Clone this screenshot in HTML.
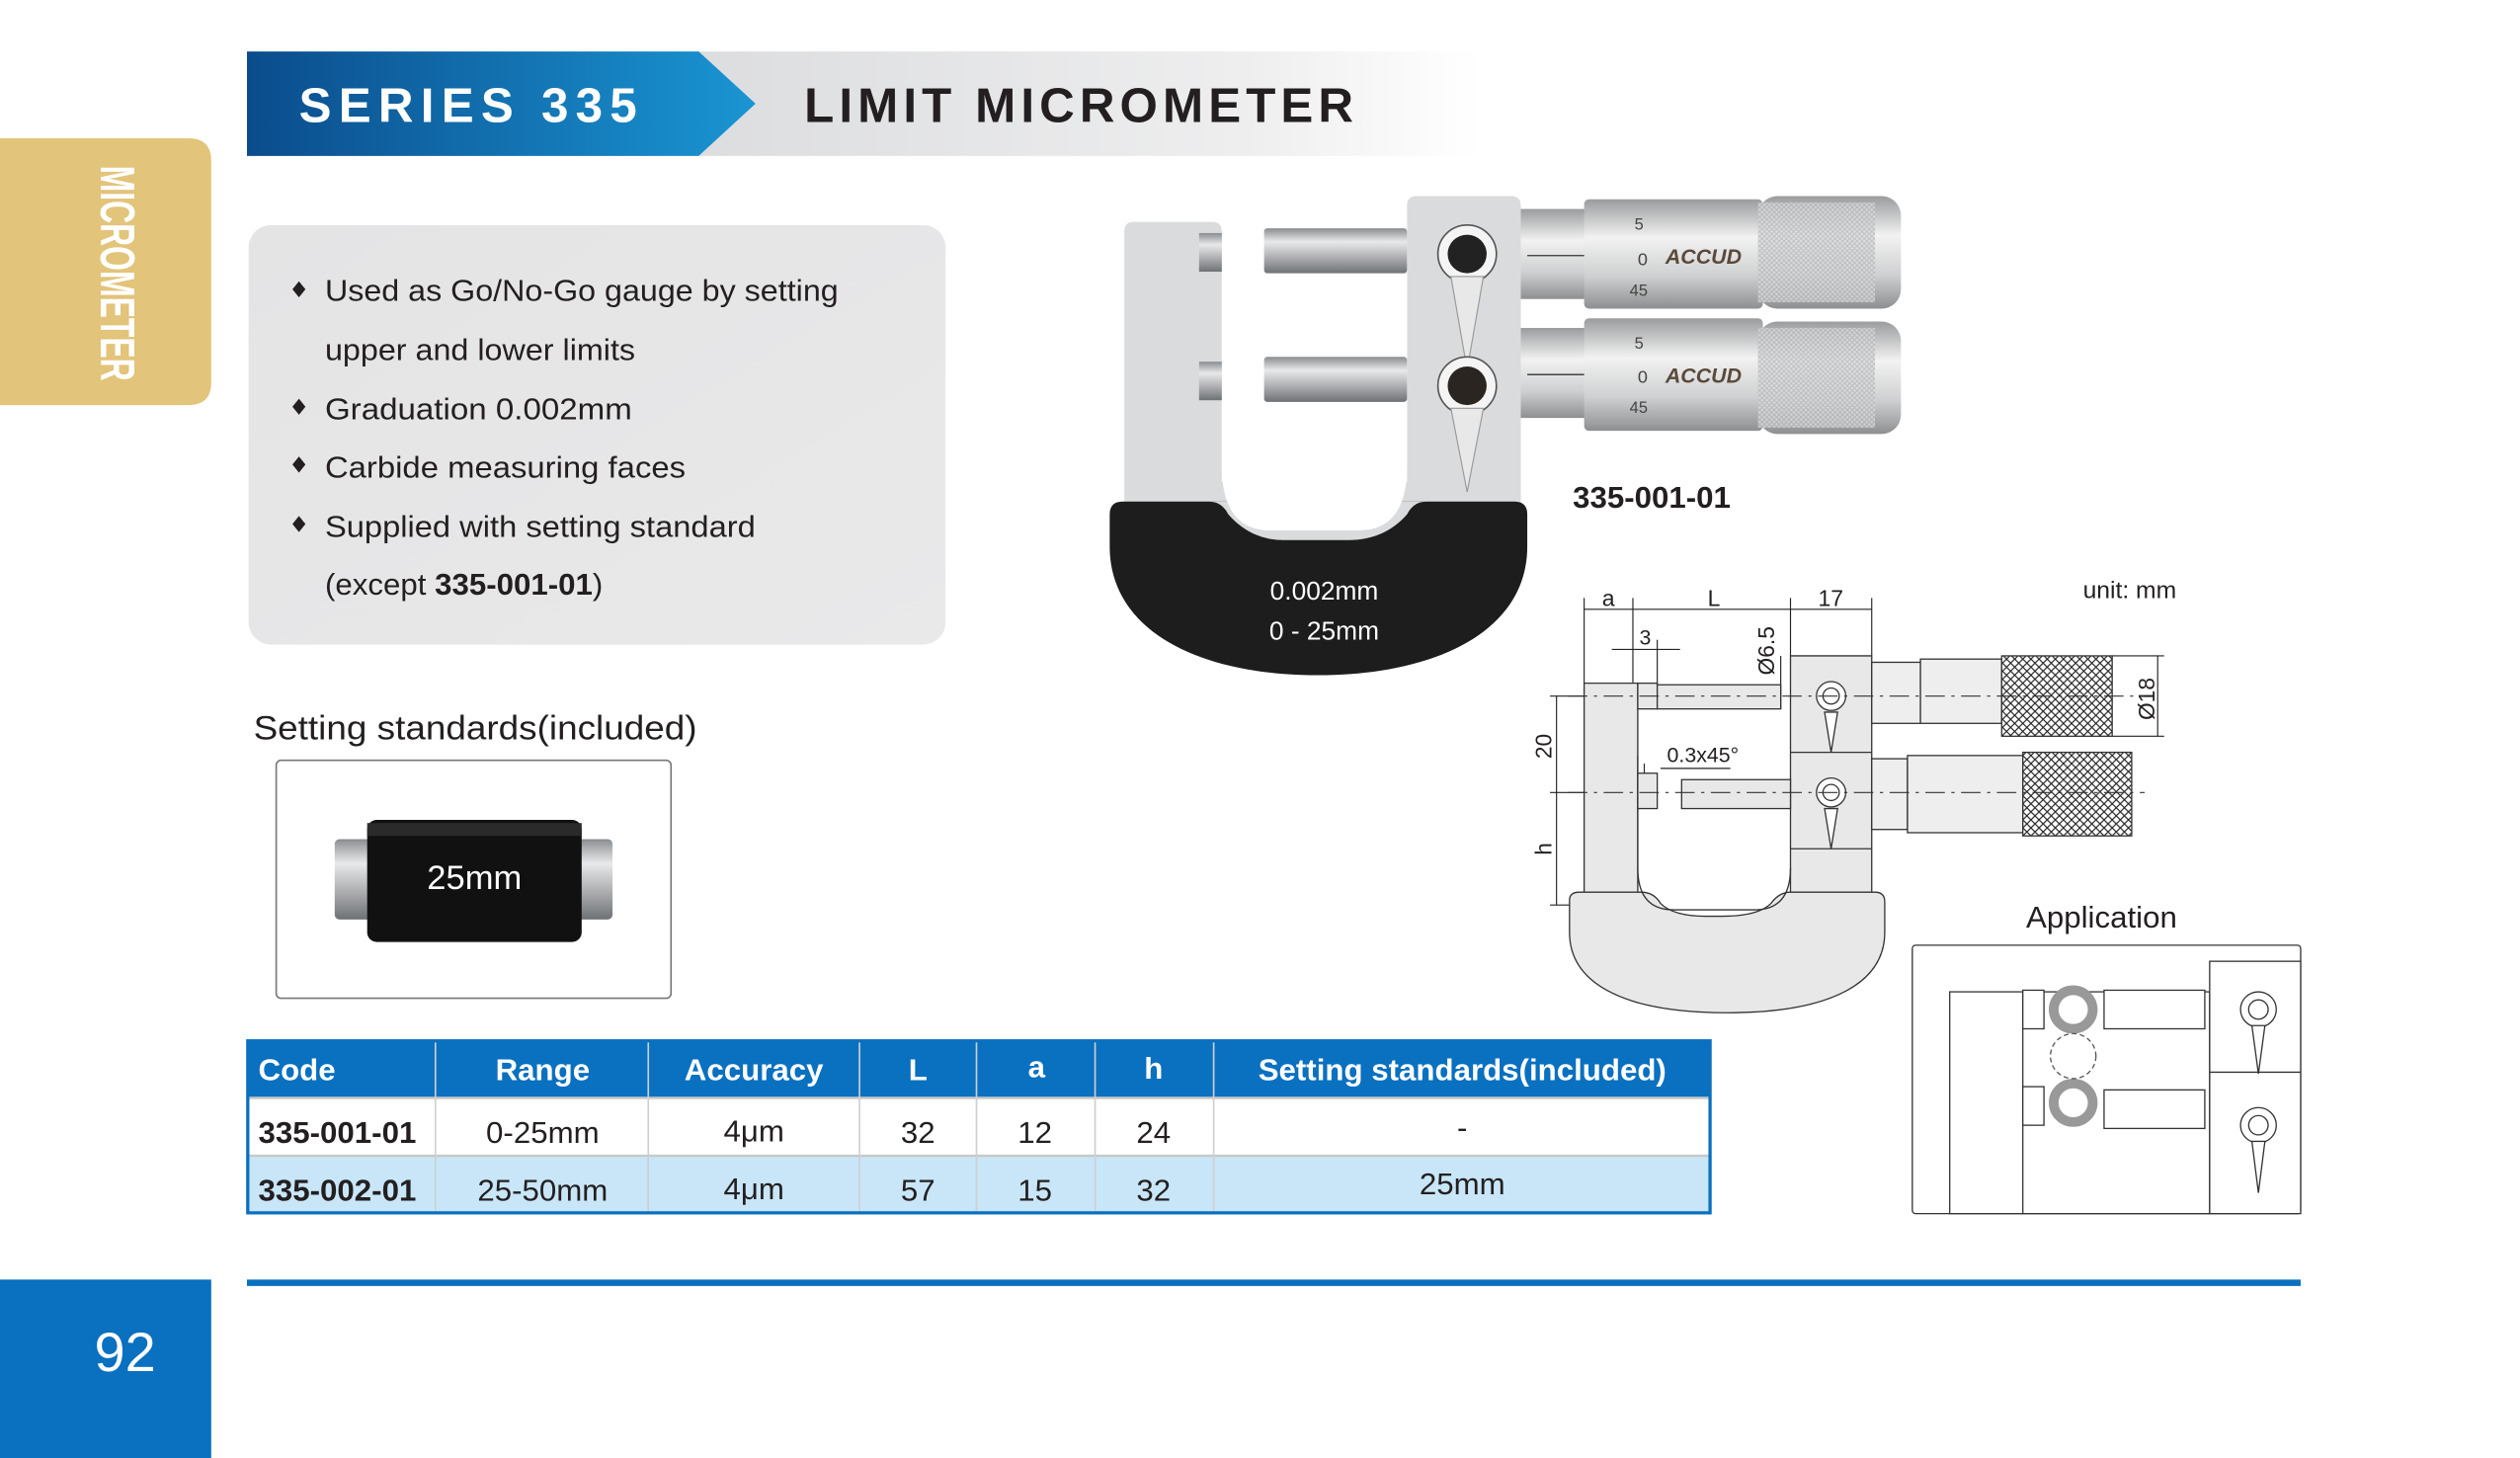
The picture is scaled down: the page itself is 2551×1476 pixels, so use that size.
<!DOCTYPE html>
<html><head><meta charset="utf-8"><style>
html,body{margin:0;padding:0;background:#fff;}
svg{display:block;}
text{font-family:"Liberation Sans",sans-serif;}
</style></head><body>
<svg width="2551" height="1476" viewBox="0 0 1551 907" preserveAspectRatio="none" xmlns="http://www.w3.org/2000/svg">
<defs>
<linearGradient id="hb" x1="0" x2="1" y1="0" y2="0"><stop offset="0" stop-color="#0b4c8c"/><stop offset="1" stop-color="#1a95d3"/></linearGradient>
<linearGradient id="hg" x1="0" x2="1"><stop offset="0" stop-color="#dcdddf"/><stop offset="0.7" stop-color="#eeeeef"/><stop offset="1" stop-color="#fff"/></linearGradient>
<linearGradient id="fb" x1="0" x2="1" y1="0" y2="1"><stop offset="0" stop-color="#e4e4e5"/><stop offset="1" stop-color="#e9e9ea"/></linearGradient>
<linearGradient id="met" x1="0" x2="0" y1="0" y2="1"><stop offset="0" stop-color="#8a8d90"/><stop offset="0.3" stop-color="#e8e9ea"/><stop offset="0.6" stop-color="#b5b7b9"/><stop offset="1" stop-color="#6f7275"/></linearGradient>
<linearGradient id="thm" x1="0" x2="0" y1="0" y2="1"><stop offset="0" stop-color="#9a9c9e"/><stop offset="0.35" stop-color="#f2f2f2"/><stop offset="0.7" stop-color="#cfd0d1"/><stop offset="1" stop-color="#8d8f91"/></linearGradient>
<pattern id="kn" width="5" height="5" patternUnits="userSpaceOnUse"><rect width="5" height="5" fill="#fff"/><path d="M0,0L5,5M5,0L0,5" stroke="#222" stroke-width="0.7"/></pattern>
<pattern id="kn2" width="3" height="3" patternUnits="userSpaceOnUse"><rect width="3" height="3" fill="#d8d9da"/><path d="M0,0L3,3M3,0L0,3" stroke="#b0b2b4" stroke-width="0.5"/></pattern>
</defs>

<!-- header -->
<rect x="430" y="32" width="480" height="65" fill="url(#hg)"/>
<polygon points="152,32 430,32 465,64.5 430,97 152,97" fill="url(#hb)"/>
<text x="184" y="76" font-size="30" font-weight="bold" fill="#fff" letter-spacing="2" textLength="210">SERIES 335</text>
<text x="495" y="76" font-size="30" font-weight="bold" fill="#231f20" textLength="338">LIMIT MICROMETER</text>

<!-- gold tab -->
<path d="M0,86 H116 Q130,86 130,100 V238 Q130,252 116,252 H0 Z" fill="#e2c47a"/>
<text transform="translate(62,103) rotate(90)" font-size="30" font-weight="bold" fill="#fff" textLength="134" lengthAdjust="spacingAndGlyphs">MICROMETER</text>

<!-- features -->
<rect x="153" y="140" width="429" height="261" rx="14" fill="url(#fb)"/>
<g font-size="19" fill="#231f20">
<path d="M184,175 l4,5 l-4,5 l-4,-5z" fill="#231f20"/>
<text x="200" y="187" textLength="316" lengthAdjust="spacingAndGlyphs">Used as Go/No-Go gauge by setting</text>
<text x="200" y="224" textLength="191" lengthAdjust="spacingAndGlyphs">upper and lower limits</text>
<path d="M184,248 l4,5 l-4,5 l-4,-5z" fill="#231f20"/>
<text x="200" y="261" textLength="189" lengthAdjust="spacingAndGlyphs">Graduation 0.002mm</text>
<path d="M184,284 l4,5 l-4,5 l-4,-5z" fill="#231f20"/>
<text x="200" y="297" textLength="222" lengthAdjust="spacingAndGlyphs">Carbide measuring faces</text>
<path d="M184,321 l4,5 l-4,5 l-4,-5z" fill="#231f20"/>
<text x="200" y="334" textLength="265" lengthAdjust="spacingAndGlyphs">Supplied with setting standard</text>
<text x="200" y="370">(except <tspan font-weight="bold">335-001-01</tspan>)</text>
</g>

<!-- setting standards -->
<text x="156" y="460" font-size="21" fill="#231f20" textLength="273" lengthAdjust="spacingAndGlyphs">Setting standards(included)</text>
<rect x="170" y="473" width="243" height="148" rx="3" fill="#fff" stroke="#777" stroke-width="1"/>
<rect x="206" y="522" width="26" height="50" rx="3" fill="url(#met)"/>
<rect x="352" y="522" width="25" height="50" rx="3" fill="url(#met)"/>
<rect x="226" y="510" width="132" height="76" rx="6" fill="#111"/>
<rect x="226" y="512" width="132" height="8" fill="#2a2a2a"/>
<text x="292" y="553" font-size="21" fill="#fff" text-anchor="middle">25mm</text>

<!-- table -->
<rect x="152" y="647" width="901" height="36" fill="#0a70c0"/>
<rect x="152" y="683" width="901" height="36" fill="#fff"/>
<rect x="152" y="719" width="901" height="36" fill="#c8e6f8"/>
<line x1="152" y1="719" x2="1053" y2="719" stroke="#c8c8c8" stroke-width="1.5"/>
<line x1="152" y1="683" x2="1053" y2="683" stroke="#c8c8c8" stroke-width="1.5"/>
<g stroke="#cfcfcf" stroke-width="1">
<line x1="268" y1="647" x2="268" y2="755"/><line x1="399" y1="647" x2="399" y2="755"/><line x1="529" y1="647" x2="529" y2="755"/><line x1="601" y1="647" x2="601" y2="755"/><line x1="674" y1="647" x2="674" y2="755"/><line x1="747" y1="647" x2="747" y2="755"/>
</g>
<rect x="152.5" y="647.5" width="900" height="107" fill="none" stroke="#0a70c0" stroke-width="2"/>
<g font-size="19" font-weight="bold" fill="#fff" text-anchor="middle">
<text x="159" y="672" text-anchor="start">Code</text>
<text x="334" y="672">Range</text><text x="464" y="672">Accuracy</text><text x="565" y="672">L</text><text x="638" y="670">a</text><text x="710" y="671">h</text><text x="900" y="672">Setting standards(included)</text>
</g>
<g font-size="19" fill="#231f20" text-anchor="middle">
<text x="159" y="711" font-weight="bold" text-anchor="start">335-001-01</text>
<text x="334" y="711">0-25mm</text><text x="464" y="710">4μm</text><text x="565" y="711">32</text><text x="637" y="711">12</text><text x="710" y="711">24</text><text x="900" y="708">-</text>
<text x="159" y="747" font-weight="bold" text-anchor="start">335-002-01</text>
<text x="334" y="747">25-50mm</text><text x="464" y="746">4μm</text><text x="565" y="747">57</text><text x="637" y="747">15</text><text x="710" y="747">32</text><text x="900" y="743">25mm</text>
</g>

<!-- footer -->
<rect x="152" y="796" width="1264" height="4" fill="#0a70c0"/>
<rect x="0" y="796" width="130" height="111" fill="#0a70c0"/>
<text x="77" y="853" font-size="34" fill="#fff" text-anchor="middle">92</text>

<!-- micrometer photo -->
<path d="M692,144 Q692,138 698,138 H746 Q752,138 752,144 V300 H866 V128 Q866,122 872,122 H930 Q936,122 936,128 V320 H692 Z" fill="#d9dbdc"/>
<path d="M746,300 H873 V336 Q873,338 870,338 H748 Q746,338 746,336 Z" fill="#d9dbdc"/>
<path d="M683,320 Q683,312 691,312 H932 Q940,312 940,320 V340 C940,392 885,420 811,420 C737,420 683,392 683,340 Z" fill="#1d1d1d"/>
<path d="M744,312 Q752,312 756,320 Q770,336 790,336 H830 Q852,336 866,320 Q870,312 878,312" fill="#d9dbdc"/>
<path d="M752,138 H866 V290 Q866,330 836,330 H782 Q752,330 752,290 Z" fill="#fff"/>
<rect x="738" y="145" width="14" height="24" fill="url(#met)"/>
<rect x="738" y="225" width="14" height="24" fill="url(#met)"/>
<rect x="778" y="142" width="88" height="28" rx="2" fill="url(#met)"/>
<rect x="778" y="222" width="88" height="28" rx="2" fill="url(#met)"/>
<!-- clamps -->
<g>
<circle cx="903" cy="158" r="18" fill="#f4f4f4" stroke="#555" stroke-width="1"/>
<circle cx="903" cy="158" r="12" fill="#222"/>
<path d="M893,172 L913,172 L903,230 Z" fill="#e8e8e8" stroke="#999" stroke-width="0.7"/>
<circle cx="903" cy="240" r="18" fill="#f4f4f4" stroke="#555" stroke-width="1"/>
<circle cx="903" cy="240" r="12" fill="#2a2520"/>
<path d="M893,254 L913,254 L903,306 Z" fill="#e8e8e8" stroke="#999" stroke-width="0.7"/>
</g>
<!-- heads -->
<g>
<rect x="936" y="130" width="42" height="56" fill="url(#thm)"/>
<rect x="975" y="124" width="110" height="68" rx="3" fill="url(#thm)"/>
<rect x="1082" y="122" width="88" height="70" rx="12" fill="url(#thm)"/>
<rect x="1082" y="126" width="72" height="62" fill="url(#kn2)" opacity="0.8"/>
<text x="1025" y="164" font-size="13" font-weight="bold" font-style="italic" fill="#5a4a3a">ACCUD</text>
<text x="1008" y="165" font-size="11" fill="#444">0</text>
<text x="1006" y="143" font-size="10" fill="#444">5</text>
<text x="1003" y="184" font-size="10" fill="#444">45</text>
<line x1="940" y1="159" x2="975" y2="159" stroke="#333" stroke-width="0.8"/>
<rect x="936" y="204" width="42" height="56" fill="url(#thm)"/>
<rect x="975" y="198" width="110" height="70" rx="3" fill="url(#thm)"/>
<rect x="1082" y="200" width="88" height="70" rx="12" fill="url(#thm)"/>
<rect x="1082" y="204" width="72" height="62" fill="url(#kn2)" opacity="0.8"/>
<text x="1025" y="238" font-size="13" font-weight="bold" font-style="italic" fill="#5a4a3a">ACCUD</text>
<text x="1008" y="238" font-size="11" fill="#444">0</text>
<text x="1006" y="217" font-size="10" fill="#444">5</text>
<text x="1003" y="257" font-size="10" fill="#444">45</text>
<line x1="940" y1="233" x2="975" y2="233" stroke="#333" stroke-width="0.8"/>
</g>
<text x="815" y="373" font-size="16" fill="#fff" text-anchor="middle">0.002mm</text>
<text x="815" y="398" font-size="16" fill="#fff" text-anchor="middle">0 - 25mm</text>
<text x="968" y="316" font-size="19" font-weight="bold" fill="#231f20">335-001-01</text>

<!-- technical drawing -->
<text x="1282" y="372" font-size="15" fill="#231f20">unit: mm</text>
<g stroke="#222" stroke-width="0.7" fill="none">
<line x1="975" y1="372" x2="975" y2="425"/><line x1="1005" y1="372" x2="1005" y2="425"/><line x1="1102" y1="372" x2="1102" y2="408"/><line x1="1152" y1="372" x2="1152" y2="408"/>
<line x1="975" y1="379" x2="1152" y2="379"/>
<line x1="1020" y1="398" x2="1020" y2="425"/>
<line x1="992" y1="404" x2="1034" y2="404"/>
<line x1="1096" y1="408" x2="1096" y2="441"/>
<line x1="1328" y1="408" x2="1328" y2="458"/><line x1="1300" y1="408" x2="1332" y2="408"/><line x1="1300" y1="458" x2="1332" y2="458"/>
<line x1="958" y1="433" x2="958" y2="563"/>
<line x1="954" y1="433" x2="975" y2="433"/><line x1="954" y1="493" x2="975" y2="493"/><line x1="954" y1="563" x2="1000" y2="563"/>
<line x1="1012" y1="475" x2="1012" y2="485"/><line x1="1022" y1="478" x2="1065" y2="478"/>
</g>
<g font-size="14" fill="#231f20">
<text x="986" y="377">a</text><text x="1051" y="377">L</text><text x="1119" y="377">17</text>
<text x="1009" y="401" font-size="13">3</text>
<text transform="translate(1092,420) rotate(-90)" font-size="14">Ø6.5</text>
<text transform="translate(1326,448) rotate(-90)" font-size="14">Ø18</text>
<text transform="translate(955,472) rotate(-90)" font-size="14">20</text>
<text transform="translate(955,532) rotate(-90)" font-size="14">h</text>
<text x="1026" y="474" font-size="13">0.3x45°</text>
</g>
<g stroke="#333" stroke-width="0.8">
<path d="M975,425 H1008 V555 H975 Z" fill="#e8e8e8"/>
<path d="M1102,408 H1152 V555 H1102 Z" fill="#e8e8e8"/>
<line x1="1102" y1="468" x2="1152" y2="468"/><line x1="1102" y1="528" x2="1152" y2="528"/>
<path d="M966,560 Q966,555 972,555 H1010 Q1018,555 1022,562 Q1030,570 1050,570 H1060 Q1082,570 1090,562 Q1095,555 1102,555 H1154 Q1160,555 1160,561 V580 C1160,610 1130,630 1063,630 C996,630 966,610 966,580 Z" fill="#e8e8e8"/>
<path d="M1008,470 V540 Q1008,566 1030,566 H1080 Q1102,566 1102,540" fill="none"/>
<rect x="1008" y="425" width="12" height="16" fill="#e8e8e8"/>
<rect x="1008" y="481" width="12" height="22" fill="#e8e8e8"/>
<rect x="1020" y="426" width="76" height="15" fill="#e8e8e8"/>
<rect x="1035" y="485" width="67" height="18" fill="#e8e8e8"/>
<rect x="1152" y="412" width="30" height="38" fill="#eee"/>
<rect x="1182" y="410" width="50" height="40" fill="#eee"/>
<rect x="1232" y="408" width="68" height="50" fill="url(#kn)"/>
<rect x="1152" y="472" width="22" height="44" fill="#eee"/>
<rect x="1174" y="470" width="71" height="48" fill="#eee"/>
<rect x="1245" y="468" width="67" height="52" fill="url(#kn)"/>
<circle cx="1127" cy="433" r="9" fill="#fff"/><circle cx="1127" cy="433" r="5" fill="#fff"/>
<path d="M1123,443 L1131,443 L1127,468 Z" fill="#fff"/>
<circle cx="1127" cy="493" r="9" fill="#fff"/><circle cx="1127" cy="493" r="5" fill="#fff"/>
<path d="M1123,503 L1131,503 L1127,528 Z" fill="#fff"/>
</g>
<g stroke="#333" stroke-width="0.7" stroke-dasharray="12,4,2,4">
<line x1="965" y1="433" x2="1320" y2="433"/><line x1="965" y1="493" x2="1320" y2="493"/>
</g>

<!-- application -->
<text x="1247" y="577" font-size="19" fill="#231f20">Application</text>
<g stroke="#333" stroke-width="0.8" fill="#fff">
<rect x="1177" y="588" width="239" height="167" rx="2"/>
<rect x="1200" y="617" width="160" height="138"/>
<line x1="1245" y1="617" x2="1245" y2="755"/>
<rect x="1360" y="598" width="56" height="157"/>
<line x1="1360" y1="667" x2="1416" y2="667"/>
<rect x="1245" y="616" width="13" height="24"/><rect x="1245" y="676" width="13" height="24"/>
<rect x="1295" y="616" width="62" height="24"/><rect x="1295" y="678" width="62" height="24"/>
<circle cx="1390" cy="628" r="11"/><circle cx="1390" cy="628" r="6"/>
<path d="M1386,638 L1394,638 L1390,668 Z"/>
<circle cx="1390" cy="700" r="11"/><circle cx="1390" cy="700" r="6"/>
<path d="M1386,710 L1394,710 L1390,742 Z"/>
</g>
<circle cx="1276" cy="628" r="12" fill="#fff" stroke="#999" stroke-width="6"/>
<circle cx="1276" cy="686" r="12" fill="#fff" stroke="#999" stroke-width="6"/>
<circle cx="1276" cy="657" r="14" fill="none" stroke="#555" stroke-width="0.8" stroke-dasharray="3,2"/>
</svg>
</body></html>
